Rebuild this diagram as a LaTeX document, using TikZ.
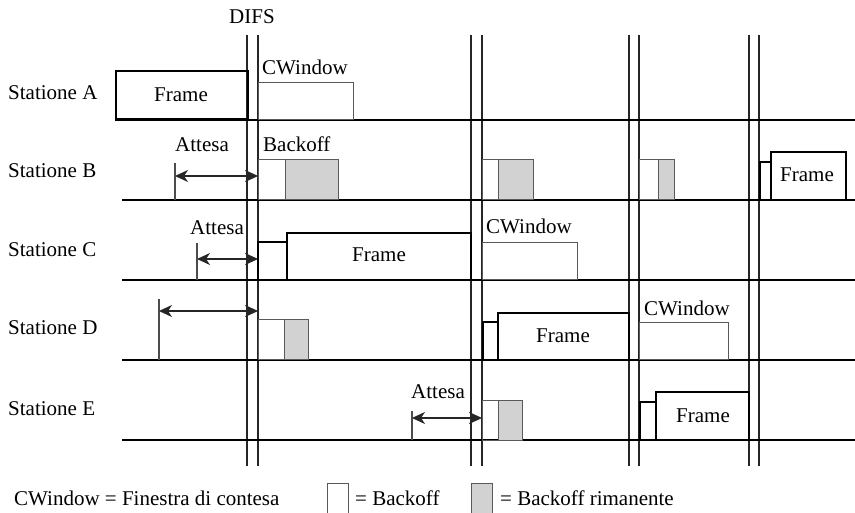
\documentclass[tikz,border=0pt]{standalone}
\usepackage{fontspec}
\setmainfont{Liberation Serif}
\usetikzlibrary{arrows.meta}
\begin{document}
\begin{tikzpicture}[x=1pt,y=-1pt,
  every node/.style={font=\fontsize{21}{24}\selectfont, inner sep=0pt},
  vline/.style={line width=1.3pt, black!85},
  baseln/.style={line width=1.2pt, black},
  thinbox/.style={draw=black!65, line width=1pt},
  graybox/.style={draw=black!65, line width=1pt, fill=gray!35},
  thickbox/.style={draw=black, line width=2.4pt},
  tick/.style={line width=1.1pt, black!70},
  waitarrow/.style={line width=1.2pt, black!85, {Stealth[length=13pt,width=12pt,inset=4pt]}-{Stealth[length=13pt,width=12pt,inset=4pt]}},
  lbl/.style={anchor=base west},
  lblc/.style={anchor=base}
]
\useasboundingbox (0,0) rectangle (855,513);

% vertical time lines
\foreach \x/\n in {247/a,258/b,471/c,482/d,629/e,639/f,749/g,759/h}{
  \coordinate (t\n) at (\x,35);
  \coordinate (u\n) at (\x,466);
  \draw[vline] (t\n) -- (u\n);
}
\node[lblc] (difs) at (252,24) {DIFS};

% station labels and baselines
\node[lbl] (sA) at (8,100) {Statione A};
\node[lbl] (sB) at (8,178) {Statione B};
\node[lbl] (sC) at (8,257) {Statione C};
\node[lbl] (sD) at (8,335) {Statione D};
\node[lbl] (sE) at (8,415) {Statione E};
\coordinate (lA0) at (115,120); \coordinate (lA1) at (855,120);
\coordinate (lB0) at (122,200); \coordinate (lB1) at (855,200);
\coordinate (lC0) at (122,280); \coordinate (lC1) at (855,280);
\coordinate (lD0) at (122,360); \coordinate (lD1) at (855,360);
\coordinate (lE0) at (122,440); \coordinate (lE1) at (855,440);
\foreach \s in {A,B,C,D,E}{\draw[baseln] (l\s0) -- (l\s1);}

% ---- Station A
\node[thickbox, anchor=south west, minimum width=132pt, minimum height=48pt] (fA) at (115,120) {};
\node[lblc] (fAt) at (181,102) {Frame};
\draw[thinbox] (258,120) rectangle (353,83);
\node[lbl] (cwA) at (262,75) {CWindow};

% ---- Station B
\coordinate (tkB0) at (175,163); \coordinate (tkB1) at (175,200);
\draw[tick] (tkB0) -- (tkB1);
\coordinate (aB0) at (175,176); \coordinate (aB1) at (258,176);
\draw[waitarrow] (aB0) -- (aB1);
\node[lbl] (atB) at (175,152) {Attesa};
\node[lbl] (bkB) at (263,152) {Backoff};
\draw[thinbox] (258,200) rectangle (285,160);
\draw[graybox] (285,200) rectangle (338,160);
\draw[thinbox] (482,200) rectangle (498,160);
\draw[graybox] (498,200) rectangle (533,160);
\draw[thinbox] (639,200) rectangle (658,160);
\draw[graybox] (658,200) rectangle (674,160);
\draw[thickbox] (760,200) rectangle (771,162);
\draw[thickbox] (771,200) rectangle (846,152);
\node[lblc] (fBt) at (807,182) {Frame};

% ---- Station C
\coordinate (tkC0) at (197,243); \coordinate (tkC1) at (197,280);
\draw[tick] (tkC0) -- (tkC1);
\coordinate (aC0) at (197,259); \coordinate (aC1) at (258,259);
\draw[waitarrow] (aC0) -- (aC1);
\node[lbl] (atC) at (190,235) {Attesa};
\draw[thickbox] (258,280) rectangle (287,242);
\draw[thickbox] (287,280) rectangle (471,233);
\node[lblc] (fCt) at (379,262) {Frame};
\draw[thinbox] (482,280) rectangle (577,243);
\node[lbl] (cwC) at (486,234) {CWindow};

% ---- Station D
\coordinate (tkD0) at (159,299); \coordinate (tkD1) at (159,360);
\draw[tick] (tkD0) -- (tkD1);
\coordinate (aD0) at (159,311); \coordinate (aD1) at (258,311);
\draw[waitarrow] (aD0) -- (aD1);
\draw[thinbox] (258,360) rectangle (284,320);
\draw[graybox] (284,360) rectangle (308,320);
\draw[thickbox] (483,360) rectangle (498,322);
\draw[thickbox] (498,360) rectangle (629,313);
\node[lblc] (fDt) at (563,342) {Frame};
\draw[thinbox] (639,360) rectangle (728,323);
\node[lbl] (cwD) at (644,316) {CWindow};

% ---- Station E
\coordinate (tkE0) at (412,411); \coordinate (tkE1) at (412,440);
\draw[tick] (tkE0) -- (tkE1);
\coordinate (aE0) at (412,418); \coordinate (aE1) at (482,418);
\draw[waitarrow] (aE0) -- (aE1);
\node[lbl] (atE) at (411,399) {Attesa};
\draw[thinbox] (482,440) rectangle (498,400);
\draw[graybox] (498,440) rectangle (522,400);
\draw[thickbox] (640,440) rectangle (656,402);
\draw[thickbox] (656,440) rectangle (749,392);
\node[lblc] (fEt) at (703,422) {Frame};

% ---- legend
\node[lbl] (lg1) at (14,505) {CWindow = Finestra di contesa};
\draw[thinbox] (327,515) rectangle (348,483);
\node[lbl] (lg2) at (355,505) {= Backoff};
\draw[graybox] (471,515) rectangle (492,483);
\node[lbl] (lg3) at (500,505) {= Backoff rimanente};
\end{tikzpicture}
\end{document}
